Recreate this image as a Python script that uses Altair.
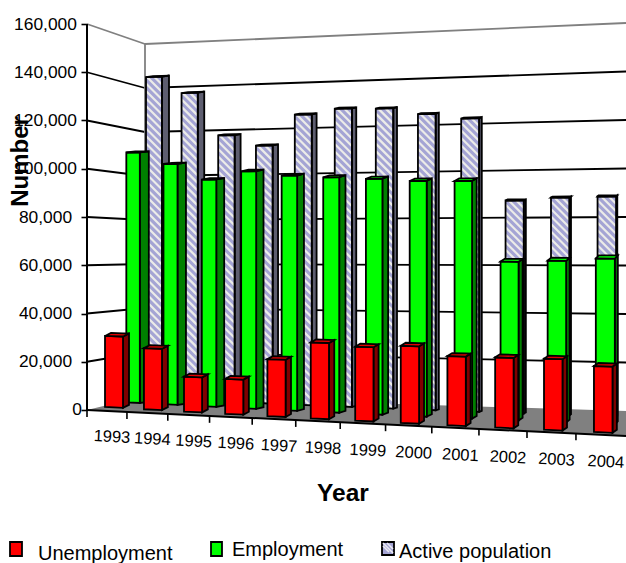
import altair as alt
import numpy as np
import pandas as pd

years = [1993, 1994, 1995, 1996, 1997, 1998, 1999, 2000, 2001, 2002, 2003, 2004]
unemployment = [29300, 25200, 14400, 14400, 23500, 31300, 30500, 31800, 28500, 28900, 29300, 27200]
employment = [106800, 102400, 96300, 100300, 99000, 98800, 98700, 98300, 98800, 65800, 66800, 68300]
active_population = [142000, 134800, 116200, 111800, 125200, 127700, 127700, 125300, 123400, 89000, 90400, 91000]
axis_ticks = [0, 20000, 40000, 60000, 80000, 100000, 120000, 140000, 160000]

FONT = "Liberation Sans"
W, H = 626, 563
LEFT = 87


# Perspective of the 3-D box, in canvas pixels.
def level(y):
    """Canvas row expressed on the value axis drawn along the front-left edge."""
    return (410 - np.asarray(y, dtype=float)) / 386 * 160000


def bar_left(i, d):
    return 105 + 38.4 * i + 0.55 * i * i + d * (41 - 3.4 * i)


def bar_base(i, d):
    return 407 + 2.27 * i - d * (9 + 0.64 * i)


def px_per_20k(i, d):
    return 48.5 - d * 3.3 * (1 - i / 12)


def tilt(v):
    return 0.0475 - 0.0915 * v / 160000


def front_tick(u):
    return 87 + 39.5 * u + 0.45 * u * u


def build_bar(series, values, d, width, side_dx, side_dy, colors):
    polys, stripes = [], []
    for i, v in enumerate(values):
        x1 = bar_left(i, d)
        w = min(width[0] + width[1] * i, 19)
        x2 = x1 + w
        dx = max(side_dx[0] - side_dx[1] * i, 1)
        dy = side_dy[0] + side_dy[1] * i
        base = bar_base(i, d)
        top = base - v / 20000 * px_per_20k(i, d)
        top_r = top + tilt(v) * w
        base_r = base + 0.0475 * w
        key = f"{series}-{i}"
        faces = [
            ("side", colors[1], [(x2, top_r, base_r), (x2 + dx, top_r - dy, base_r - dy)]),
            ("front", colors[0], [(x1, top, base), (x2, top_r, base_r)]),
        ]
        xs = sorted([x1, x1 + dx, x2, x2 + dx])
        upper = np.interp(xs, [x1, x1 + dx, x2 + dx], [top, top - dy, top_r - dy])
        lower = np.interp(xs, [x1, x2, x2 + dx], [top, top_r, top_r - dy])
        faces.append(("top", colors[2], list(zip(xs, upper, lower))))
        for name, color, pts in faces:
            for x, y_up, y_low in pts:
                polys.append(dict(id=f"{key}-{name}", x=x, y=level(y_up), y2=level(y_low), color=color))
        if series == "active":
            # Diagonal hatching of the front face.
            for c in np.arange(top - x2 + x1, base, 7.5):
                a_top = max(c, top)
                a_bot = min(c + w, base)
                if a_bot <= a_top:
                    continue
                stripes.append(dict(x=x1 + a_top - c, x2=x1 + a_bot - c, y=level(a_top), y2=level(a_bot)))
    return pd.DataFrame(polys), pd.DataFrame(stripes)


x_scale = alt.Scale(domain=[LEFT, W], range=[0, W - LEFT], nice=False, zero=False)
y_scale = alt.Scale(domain=[float(level(H)), float(level(0))], range=[H, 0], nice=False, zero=False)

# Value axis along the front-left edge; the "0" sits further right on its own.
value_axis = alt.Axis(
    values=axis_ticks,
    grid=False,
    domain=False,
    tickColor="black",
    tickWidth=1.6,
    tickSize=6,
    labelColor="black",
    labelFont=FONT,
    labelFontSize=17.4,
    labelAlign="center",
    labelPadding=36,
    labelBound=False,
    labelFlush=False,
    labelOverlap=False,
    labelExpr="datum.value == 0 ? '' : format(datum.value, ',')",
    title="Number",
    titleFont=FONT,
    titleFontSize=24,
    titleFontWeight="bold",
    titleColor="black",
    titleX=-55,
    titleY=161,
    titleAngle=270,
)

X = alt.X("x:Q", scale=x_scale, axis=None)
X2 = alt.X2("x2:Q")
Y = alt.Y("y:Q", scale=y_scale, axis=value_axis, stack=None)
Y2 = alt.Y2("y2:Q")


def area_layer(df, **mark):
    return alt.Chart(df).mark_area(**mark).encode(
        x=X, y=Y, y2=Y2, detail="id:N", fill=alt.Fill("color:N", scale=None)
    )


def rules(df, color, width):
    return alt.Chart(df).mark_rule(color=color, strokeWidth=width).encode(x=X, x2=X2, y=Y, y2=Y2)


def label_layer(df, **mark):
    return alt.Chart(df).mark_text(font=FONT, color="black", **mark).encode(x=X, y=Y, text="text:N")


# Floor of the box.
floor = pd.DataFrame(
    dict(
        id="floor",
        color="#808080",
        x=[87, 145, 626],
        y=level([410, 396, 411]),
        y2=level([410, 412.8, 436]),
    )
)


# Gridlines on the left wall and the back wall.
def back_y(v, at_right):
    spacing, mid = (48.5, 217) if at_right else (44, 220)
    return mid - (v - 80000) / 20000 * spacing


grid_rows = []
for v in axis_ticks[1:]:
    grid_rows.append(dict(x=87, x2=145, y=v, y2=float(level(back_y(v, False)))))
    grid_rows.append(dict(x=145, x2=626, y=float(level(back_y(v, False))), y2=float(level(back_y(v, True)))))
grid = pd.DataFrame(grid_rows)
grid_top = grid.iloc[-2:].reset_index(drop=True)
grid_dark = grid.iloc[:-2].reset_index(drop=True)
corner = pd.DataFrame(dict(x=[145], x2=[145], y=level([44]), y2=level([396])))

# Front edge of the floor and its category ticks.
edge = pd.DataFrame(dict(x=[87], x2=[626], y=level([410]), y2=level([436])))
tick_u = np.arange(0, 12)
tick_x = front_tick(tick_u)
tick_top = 410 + 0.0475 * (tick_x - 87)
year_ticks = pd.DataFrame(dict(x=tick_x, x2=tick_x, y=level(tick_top), y2=level(tick_top + 7)))
left_edge = pd.DataFrame(dict(x=[87], x2=[87], y=[0.0], y2=[160000.0]))

year_labels = pd.DataFrame(
    dict(
        x=(front_tick(tick_u) + front_tick(tick_u + 1)) / 2 + 5,
        y=level(437 + 2.27 * tick_u),
        text=[str(y) for y in years],
    )
)

a_poly, a_stripes = build_bar(
    "active", active_population, 1.0, (16, 0.25), (7, 0.55), (1, 0), ("#a4a4d4", "#5e5e70", "#b4b4d8")
)
e_poly, _ = build_bar(
    "employment", employment, 0.52, (13.5, 0.5), (9, 0.55), (1, 0.2), ("#00ff00", "#008000", "#00ff00")
)
u_poly, _ = build_bar(
    "unemployment", unemployment, 0.0, (18, 0.05), (6, 0.15), (3, 0), ("#ff0000", "#800000", "#e00000")
)

BORDER = dict(stroke="black", strokeWidth=1.8, strokeJoin="miter")

zero_label = label_layer(
    pd.DataFrame(dict(x=[77], y=[0.0], text=["0"])), fontSize=17.4, align="center", baseline="middle"
)

# Legend entries.
swatch_colors = ["#ff0000", "#00ff00", "#a4a4d4"]
legend_names = ["Unemployment", "Employment", "Active population"]
swatches = pd.DataFrame(
    dict(
        x=[10, 211, 382],
        x2=[22, 222, 394],
        y=level([542, 542, 542]),
        y2=level([556, 556, 555]),
        color=swatch_colors,
    )
)
legend_swatches = alt.Chart(swatches).mark_rect(stroke="black", strokeWidth=1.8).encode(
    x=X, x2=X2, y=Y, y2=Y2, fill=alt.Fill("color:N", scale=None)
)
legend_hatch = rules(
    pd.DataFrame(dict(x=[383, 383, 387], x2=[389, 393, 393], y=level([546, 543, 543]), y2=level([552, 553, 549]))),
    "#ececf2",
    1.6,
)
legend_text = label_layer(
    pd.DataFrame(dict(x=[38, 232, 399], y=level([560, 556, 558]), text=legend_names)),
    fontSize=20,
    align="left",
    baseline="alphabetic",
)

chart = alt.layer(
    area_layer(floor),
    rules(grid_dark, "black", 1.8),
    rules(grid_top, "#808080", 1.8),
    rules(corner, "#808080", 1.8),
    area_layer(a_poly),
    rules(a_stripes, "#ecece8", 2.2),
    area_layer(a_poly, fillOpacity=0, **BORDER),
    area_layer(e_poly, **BORDER),
    rules(edge, "black", 2),
    rules(year_ticks, "black", 1.6),
    rules(left_edge, "black", 2),
    area_layer(u_poly, **BORDER),
    zero_label,
    label_layer(year_labels, fontSize=16.5, align="center", baseline="middle", angle=3),
    label_layer(
        pd.DataFrame(dict(x=[343], y=level([494]), text=["Year"])),
        fontSize=24.5,
        fontWeight="bold",
        align="center",
        baseline="middle",
    ),
    legend_swatches,
    legend_hatch,
    legend_text,
).properties(
    width=W - LEFT,
    height=H,
    padding={"left": LEFT, "right": 0, "top": 0, "bottom": 0},
    autosize=alt.AutoSizeParams(type="none"),
    background="white",
).configure_view(stroke=None)

chart.save("out.html", embed_options={"renderer": "svg", "actions": False})
